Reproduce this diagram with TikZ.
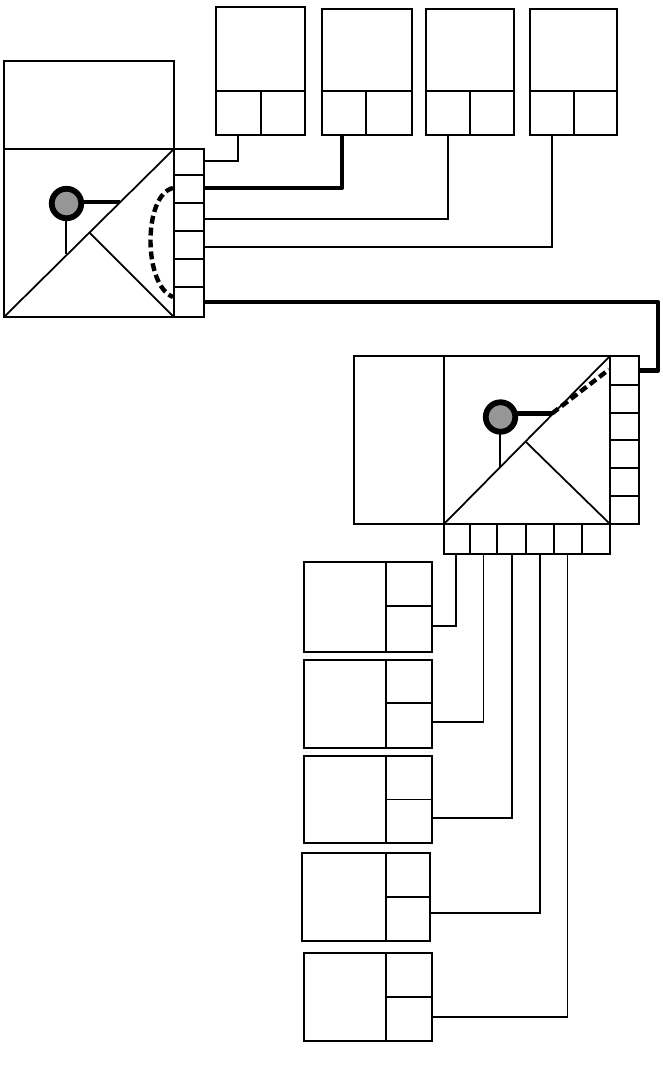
\documentclass[tikz,border=0pt]{standalone}
\usepackage{tikz}
\definecolor{lampgray}{RGB}{150,150,150}
\tikzstyle{block} = [rectangle, draw=black, line width=0.95pt, inner sep=0pt, outer sep=0pt]
\tikzstyle{lamp} = [circle, draw=black, fill=lampgray, line width=3.3pt, minimum size=0.59cm, inner sep=0pt, outer sep=0pt]
\tikzstyle{connect} = [line width=1pt]
\tikzstyle{heavy} = [line width=2.5pt, line join=round]
\tikzstyle{faint} = [line width=0.4pt]
\tikzstyle{arm} = [line width=2.4pt]
\tikzstyle{swing} = [line width=2.5pt, dash pattern=on 4.5pt off 2.3pt]
% one block, from its corners in pixels
\newcommand{\blockat}[5]{\node (#1) [block, minimum width={(#4-#2)*0.02cm}, minimum height={(#5-#3)*0.02cm}] at ({(#2+#4)/2},{(#3+#5)/2}) {};}
\begin{document}
\begin{tikzpicture}[x=0.02cm,y=-0.02cm]
	\useasboundingbox (0,0) rectangle (663,1073);
	%-----------------------------------------------
	% upper unit
	\blockat{atop}{4}{61}{174}{149}
	\blockat{amain}{4}{149}{174}{317}
	\foreach \i/\ya/\yb in {1/149/175,2/175/203,3/203/231,4/231/259,5/259/287,6/287/317}
		\blockat{a\i}{174}{\ya}{204}{\yb}
	\coordinate (asplit) at (89,232);
	\coordinate (aarm) at (120,202);
	\coordinate (afoot) at (66,254);
	\draw [connect] (amain.south west) -- (amain.north east);
	\draw [connect] (asplit) -- (amain.south east);
	\node (alamp) [lamp] at (66.5,203.5) {};
	\draw [arm] (alamp.east |- aarm) -- (aarm);
	\draw [connect] (afoot |- alamp.south) -- (afoot);
	\coordinate (aswa) at (173,188);
	\coordinate (aswb) at (173,297);
	\draw [swing] (aswa) .. controls (143,195) and (143,285) .. (aswb);
	%-----------------------------------------------
	% top row
	\foreach \n/\xa/\xb/\xc/\yt in {1/216/261/305/7,2/322/366/412/9,3/426/470/514/9,4/530/574/617/9} {
		\blockat{b\n}{\xa}{\yt}{\xc}{91}
		\blockat{bl\n}{\xa}{91}{\xb}{135}
		\blockat{br\n}{\xb}{91}{\xc}{135}
	}
	%-----------------------------------------------
	% lower unit
	\blockat{cside}{354}{356}{444}{524}
	\blockat{cmain}{444}{356}{610}{524}
	\foreach \i/\ya/\yb in {1/356/385,2/385/413,3/413/440,4/440/468,5/468/496,6/496/524}
		\blockat{c\i}{610}{\ya}{639}{\yb}
	\foreach \i/\xa/\xb in {1/444/470,2/470/497,3/497/526,4/526/554,5/554/582,6/582/610}
		\blockat{e\i}{\xa}{524}{\xb}{554}
	\coordinate (csplit) at (526,442);
	\coordinate (carm) at (552,413.5);
	\coordinate (cfoot) at (500,467);
	\coordinate (cend) at (609,369.5);
	\draw [connect] (cmain.south west) -- (cmain.north east);
	\draw [connect] (csplit) -- (cmain.south east);
	\node (clamp) [lamp] at (500.5,417) {};
	\draw [arm] (clamp.east |- carm) -- (carm);
	\draw [connect] (cfoot |- clamp.south) -- (cfoot);
	\draw [swing] (carm) -- (cend);
	%-----------------------------------------------
	% bottom column
	\foreach \n/\xa/\xb/\ya/\yb/\yc in {1/304/432/562/606/652,2/304/432/660/703/748,4/302/430/853/897/941,5/304/432/953/997/1041} {
		\blockat{d\n}{\xa}{\ya}{386}{\yc}
		\blockat{dt\n}{386}{\ya}{\xb}{\yb}
		\blockat{dl\n}{386}{\yb}{\xb}{\yc}
	}
	\blockat{d3}{304}{756}{386}{843}
	\blockat{dr3}{386}{756}{432}{843}
	\draw [faint] (dr3.west) -- (dr3.east);
	%-----------------------------------------------
	% free ends on the block edges
	\coordinate (ain1) at (204,161);
	\coordinate (ain2) at (204,188);
	\coordinate (ain3) at (204,219);
	\coordinate (ain4) at (204,247);
	\coordinate (bout1) at (238,135);
	\coordinate (bout2) at (342,135);
	\coordinate (din1) at (432,626);
	\coordinate (din2) at (432,722);
	\coordinate (din3) at (432,818);
	\coordinate (din4) at (430,913);
	\coordinate (din5) at (432,1017);
	\coordinate (ctop) at (658,302);
	\coordinate (eout1) at (456,554);
	\coordinate (eout2) at (483.5,554);
	\coordinate (eout3) at (512,554);
	\coordinate (eout4) at (540,554);
	\coordinate (eout5) at (567.5,554);
	%-----------------------------------------------
	\draw [connect] (bout1) |- (ain1);
	\draw [heavy] (bout2) |- (ain2);
	\draw [connect] (bl3.south) |- (ain3);
	\draw [connect] (bl4.south) |- (ain4);
	\draw [heavy] (a6.east) -- (ctop) |- (c1.east);
	\draw [connect] (eout1) |- (din1);
	\draw [faint] (eout2) -- (eout2 |- din2);
	\draw [connect] (eout2 |- din2) -- (din2);
	\draw [connect] (eout3) |- (din3);
	\draw [connect] (eout4) |- (din4);
	\draw [faint] (eout5) -- (eout5 |- din5);
	\draw [connect] (eout5 |- din5) -- (din5);
\end{tikzpicture}
\end{document}
